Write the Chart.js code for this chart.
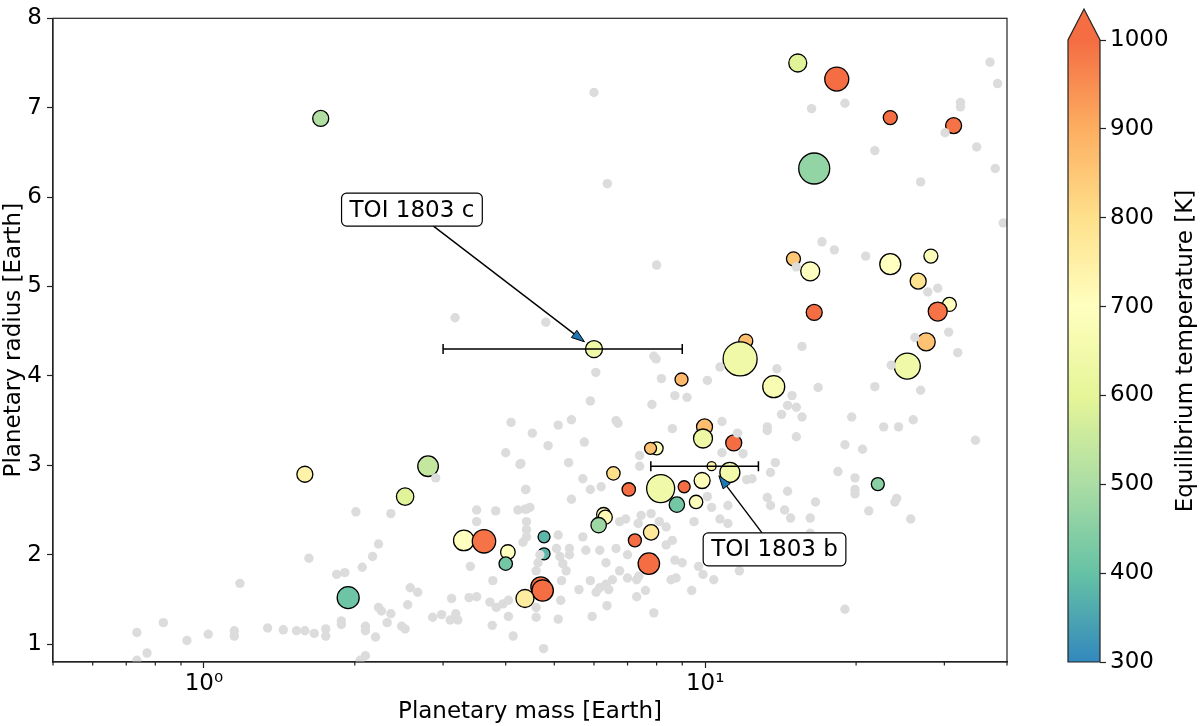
<!DOCTYPE html>
<html><head><meta charset="utf-8">
<script src="https://cdn.jsdelivr.net/npm/chart.js@4.4.1/dist/chart.umd.min.js"></script>
<style>
html,body{margin:0;padding:0;background:#fff;}
#wrap{position:relative;width:1200px;height:726px;}
canvas{position:absolute;left:0;top:0;}
</style></head><body>
<div id="wrap"><canvas id="main" width="1200" height="726"></canvas><canvas id="cbar" width="1200" height="726"></canvas></div>
<script>
// ---------- data ----------
const grayMass = [6.0,6.38,8.0,4.81,16.3,19.0,21.8,26.9,30.1,32.3,32.3,34.8,37.0,38.3,37.9,39.3,17.1,18.1,20.9,15.2,27.8,29.1,30.6,26.2,15.6,
6.05,7.9,7.98,8.18,8.7,9.2,7.83,5.9,10.1,10.7,13.9,16.8,14.9,14.6,15.2,14.2,15.6,21.8,26.9,31.9,23.5,19.6,22.7,24.3,26.0,34.6,19.0,20.6,18.4,19.9,19.9,19.9,24.1,23.9,21.2,25.7,19.0,15.2,13.3,13.3,13.8,13.5,14.6,13.3,13.5,14.4,14.8,16.2,16.6,16.2,16.2,12.1,12.4,11.6,11.9,10.8,10.8,8.6,7.4,7.4,6.64,6.7,5.09,5.41,5.74,4.52,4.86,4.27,5.34,5.7,5.9,6.2,4.39,5.41,4.37,4.47,4.4,4.4,4.4,5.09,5.7,5.36,5.36,5.05,5.78,6.16,6.64,6.34,6.75,6.94,7.35,7.45,7.8,8.1,8.36,7.0,8.36,8.7,9.0,8.6,9.5,10.1,10.3,10.7,11.1,11.1,9.7,9.9,10.4,9.4,11.7,8.75,8.55,7.3,7.37,7.6,7.3,7.9,7.0,6.75,6.53,6.34,6.16,6.42,5.9,6.06,6.37,5.6,5.2,5.28,5.17,5.15,5.95,5.09,4.6,4.6,4.76,4.6,4.64,4.68,4.33,5.13,
4.10,4.0,4.29,4.38,2.90,2.01,2.36,3.50,3.50,3.82,4.23,4.4,2.23,2.17,2.07,1.91,1.84,1.62,1.18,3.40,3.77,2.58,2.67,2.55,2.23,2.26,2.36,2.32,2.48,2.52,3.12,3.38,3.50,2.86,2.98,3.10,3.18,3.21,3.72,3.83,3.95,4.05,4.05,3.76,4.14,2.10,2.10,2.20,1.88,1.88,1.75,1.75,1.66,1.59,1.53,1.44,1.34,1.15,1.15,1.02,0.925,0.83,0.735,0.77,0.735,2.10,2.05,3.17];
const grayRadius = [7.17,6.15,5.24,4.60,6.99,7.05,6.52,6.17,6.72,7.06,7.01,6.56,7.51,7.27,6.32,5.71,5.50,5.41,5.34,5.22,4.94,4.98,4.49,4.43,4.33,
4.04,4.22,4.19,3.97,3.78,3.76,3.68,3.72,3.95,4.10,4.08,3.87,3.78,3.67,3.65,3.57,3.54,3.88,3.84,4.26,4.12,3.54,3.43,3.43,3.51,3.28,3.23,3.18,2.93,2.86,2.73,2.68,2.63,2.59,2.49,2.40,1.39,3.32,3.43,3.39,3.03,2.92,2.71,2.64,2.55,2.50,2.41,2.41,2.59,2.24,2.12,2.84,2.85,3.36,3.13,3.49,3.14,3.41,3.11,2.99,3.50,3.47,3.45,3.51,3.26,3.36,3.22,3.01,3.03,2.85,2.73,2.76,2.73,2.62,2.51,2.53,2.37,2.28,2.20,2.22,2.20,2.07,2.00,2.07,2.05,2.05,2.07,1.91,2.37,2.40,2.35,2.44,2.46,2.37,2.31,2.00,2.11,1.94,1.91,2.16,2.37,2.65,2.53,2.40,2.35,2.55,1.87,1.78,1.72,1.60,1.82,1.74,1.72,1.72,1.76,1.60,1.53,1.35,1.74,1.82,1.72,1.67,1.63,1.61,1.71,1.58,1.43,1.61,1.90,1.82,1.71,1.49,1.31,1.28,1.30,1.41,0.95,1.82,1.91,2.00,2.14,1.98,
3.48,3.14,3.02,2.73,2.86,2.48,2.46,2.50,2.37,2.49,2.50,2.51,2.12,1.98,1.86,1.80,1.78,1.96,1.68,1.87,1.71,1.63,1.58,1.44,1.41,1.37,1.34,1.24,1.20,1.17,1.51,1.52,1.53,1.30,1.33,1.27,1.34,1.27,1.47,1.41,1.45,1.49,1.31,1.21,1.09,1.20,1.15,1.08,1.26,1.22,1.17,1.09,1.12,1.15,1.15,1.16,1.18,1.15,1.09,1.11,1.04,1.24,1.13,0.90,0.82,0.87,0.82,4.65];

const planetMass   = [15.3,18.3,23.4,31.3,16.5,15.0,16.2,23.4,28.2,26.6,16.5,30.7,29.1,27.6,12.05,6.0,11.74,25.3,13.7,8.97,9.97,9.9,11.4,8.0,7.78,10.3,11.2,9.86,8.15,9.08,7.04,6.56,8.78,9.59,6.27,6.32,6.13,7.8,7.24,7.72,4.77,4.77,22.1,4.70,4.74,4.37,1.59,2.80,2.52,3.30,3.62,4.04,4.0,1.94,1.71];
const planetRadius = [7.50,7.32,6.89,6.80,6.32,5.31,5.17,5.25,5.34,5.06,4.71,4.80,4.72,4.38,4.39,4.30,4.19,4.11,3.88,3.96,3.43,3.30,3.25,3.19,3.19,2.99,2.92,2.83,2.74,2.76,2.73,2.91,2.56,2.59,2.45,2.42,2.33,2.25,2.16,1.90,2.20,2.01,2.79,1.64,1.60,1.51,2.90,2.99,2.65,2.16,2.15,2.03,1.90,1.52,6.88];
const planetTeq    = [590,1000,1000,990,465,850,700,700,680,790,1000,700,990,860,870,640,640,640,670,880,870,630,1000,690,860,740,650,710,640,1000,1000,800,420,690,720,720,480,770,1000,1000,380,380,450,990,1000,760,740,540,590,700,990,700,420,410,510];
const planetBubble = [9,12,7,8,15.5,7,9.5,10.5,7,8,8,7,9.5,9,7,8.5,17,13,11,6.5,8,9.5,8,6.5,6,4.5,10,8,14,6,6.7,6.7,7.7,6.7,7,7,7.7,7.7,6.5,10.7,6,6,6.5,10,10.7,9,8,10.3,8.7,10.3,11.7,7.3,6.7,11,8];

const toiNames       = ['TOI 1803 c','TOI 1803 b'];
const toiMass        = [6.0, 10.3];
const toiMassLow     = [3.0, 7.79];
const toiMassHigh    = [9.0, 12.77];
const toiRadius      = [4.30, 2.99];
const toiLabelMass   = [2.6, 13.75];
const toiLabelRadius = [5.86, 2.06];

const xMajorTicks = [1, 10];
const xTickLabels = ['10\u2070', '10\u00b9'];
const xMinorTicks = [0.5,0.6,0.7,0.8,0.9,2,3,4,5,6,7,8,9,20,30,40];
const yTicks = [1,2,3,4,5,6,7,8];
const cbarTicks = [300,400,500,600,700,800,900,1000];
const cbarTitle = 'Equilibrium temperature [K]';
const cmapStops = ['#3288bd','#66c2a5','#abdda4','#e6f598','#ffffbf','#fee08b','#fdae61','#f46d43'];

// ---------- helpers ----------
const TEQ_MIN = cbarTicks[0], TEQ_MAX = cbarTicks[cbarTicks.length-1];
function hex2rgb(h){return [parseInt(h.slice(1,3),16),parseInt(h.slice(3,5),16),parseInt(h.slice(5,7),16)];}
const stopRGB = cmapStops.map(hex2rgb);
function cmap(v){
  let t = (v - TEQ_MIN)/(TEQ_MAX - TEQ_MIN);
  t = Math.max(0, Math.min(1, t));
  const n = stopRGB.length - 1, f = t*n, i = Math.min(n-1, Math.floor(f)), u = f - i;
  const a = stopRGB[i], b = stopRGB[i+1];
  return 'rgb(' + [0,1,2].map(k => Math.round(a[k] + (b[k]-a[k])*u)).join(',') + ')';
}

Chart.defaults.font.family = "'DejaVu Sans', sans-serif";
Chart.defaults.font.size = 23;
Chart.defaults.color = '#000';

const FONT = "23px 'DejaVu Sans', sans-serif";

const errorBarPlugin = {
  id: 'errorbars',
  afterDatasetDraw(chart, args) {
    if (args.index !== 0) return;
    const ctx = chart.ctx, xs = chart.scales.x, ys = chart.scales.y;
    ctx.save();
    ctx.strokeStyle = '#000'; ctx.lineWidth = 1.5;
    for (let i = 0; i < toiMass.length; i++) {
      const x0 = xs.getPixelForValue(toiMassLow[i]), x1 = xs.getPixelForValue(toiMassHigh[i]);
      const y = ys.getPixelForValue(toiRadius[i]);
      ctx.beginPath();
      ctx.moveTo(x0, y); ctx.lineTo(x1, y);
      ctx.moveTo(x0, y-5); ctx.lineTo(x0, y+5);
      ctx.moveTo(x1, y-5); ctx.lineTo(x1, y+5);
      ctx.stroke();
    }
    ctx.restore();
  }
};

const framePlugin = {
  id: 'frame',
  afterDraw(chart) {
    const ctx = chart.ctx, a = chart.chartArea, xs = chart.scales.x, ys = chart.scales.y;
    ctx.save();
    ctx.strokeStyle = '#222'; ctx.lineWidth = 1.2;
    ctx.strokeRect(a.left, a.top, a.right - a.left, a.bottom - a.top);
    // minor ticks
    ctx.beginPath();
    xMinorTicks.forEach(v => {
      const px = xs.getPixelForValue(v);
      ctx.moveTo(px, a.bottom); ctx.lineTo(px, a.bottom + 3.5);
    });
    ctx.stroke();
    // annotations
    ctx.font = FONT;
    ctx.textAlign = 'center'; ctx.textBaseline = 'middle';
    for (let i = 0; i < toiNames.length; i++) {
      const px = xs.getPixelForValue(toiMass[i]), py = ys.getPixelForValue(toiRadius[i]);
      const tx = xs.getPixelForValue(toiLabelMass[i]), ty = ys.getPixelForValue(toiLabelRadius[i]);
      const w = ctx.measureText(toiNames[i]).width + 16, h = 33;
      const dx = px - tx, dy = py - ty, L = Math.hypot(dx, dy), ux = dx/L, uy = dy/L;
      const t0 = Math.min((w/2)/Math.abs(ux || 1e-9), (h/2)/Math.abs(uy || 1e-9));
      const sx = tx + ux*t0, sy = ty + uy*t0;
      const ex = px - ux*12, ey = py - uy*12;
      const hl = 13, hw = 4.5;
      const bx = ex - ux*hl, by = ey - uy*hl;
      ctx.strokeStyle = '#000'; ctx.lineWidth = 1.4;
      ctx.beginPath(); ctx.moveTo(sx, sy); ctx.lineTo(bx, by); ctx.stroke();
      ctx.beginPath();
      ctx.moveTo(ex, ey);
      ctx.lineTo(bx - uy*hw, by + ux*hw);
      ctx.lineTo(bx + uy*hw, by - ux*hw);
      ctx.closePath();
      ctx.fillStyle = '#1f77b4'; ctx.fill();
      ctx.lineWidth = 1; ctx.stroke();
      // box
      ctx.beginPath();
      ctx.roundRect(tx - w/2, ty - h/2, w, h, 5);
      ctx.fillStyle = '#fff'; ctx.fill();
      ctx.lineWidth = 1.2; ctx.strokeStyle = '#000'; ctx.stroke();
      ctx.fillStyle = '#000';
      ctx.fillText(toiNames[i], tx, ty + 1);
    }
    ctx.restore();
  }
};

new Chart(document.getElementById('main'), {
  type: 'scatter',
  data: {
    datasets: [
      {
        data: grayMass.map((m, i) => ({x: m, y: grayRadius[i]})),
        pointRadius: 4.7, pointBackgroundColor: '#dcdcdc', pointBorderWidth: 0, pointHoverRadius: 4.7
      },
      {
        data: planetMass.map((m, i) => ({x: m, y: planetRadius[i]})),
        pointRadius: c => planetBubble[c.dataIndex],
        pointHoverRadius: c => planetBubble[c.dataIndex],
        pointBackgroundColor: c => cmap(planetTeq[c.dataIndex]),
        pointBorderColor: '#000', pointBorderWidth: 1.3
      }
    ]
  },
  options: {
    responsive: false, animation: false, devicePixelRatio: 1,
    events: [],
    layout: {padding: {left: 0, right: 193, top: 9, bottom: 0}},
    plugins: {legend: {display: false}, tooltip: {enabled: false}},
    scales: {
      x: {
        type: 'logarithmic', min: 0.5, max: 40,
        afterBuildTicks: s => { s.ticks = xMajorTicks.map(v => ({value: v, major: true})); },
        ticks: {autoSkip: false, maxRotation: 0, padding: 2, color: '#000',
          callback: v => { const k = xMajorTicks.indexOf(v); return k >= 0 ? xTickLabels[k] : ''; }},
        grid: {drawOnChartArea: false, drawTicks: true, tickLength: 6, color: '#222', tickWidth: 1.2},
        border: {display: true, color: '#222', width: 1.2},
        title: {display: true, text: 'Planetary mass [Earth]', padding: 0, color: '#000'},
        afterFit: s => { s.height = 64; s.paddingLeft = 0; s.paddingRight = 0; }
      },
      y: {
        type: 'linear', min: 0.8, max: 8,
        afterBuildTicks: s => { s.ticks = yTicks.map(v => ({value: v})); },
        ticks: {padding: 5, color: '#000', callback: v => String(v)},
        grid: {drawOnChartArea: false, drawTicks: true, tickLength: 6, color: '#222', tickWidth: 1.2},
        border: {display: true, color: '#222', width: 1.2},
        title: {display: true, text: 'Planetary radius [Earth]', padding: 0, color: '#000'},
        afterFit: s => { s.width = 53; s.paddingTop = 0; s.paddingBottom = 0; }
      }
    }
  },
  plugins: [errorBarPlugin, framePlugin]
});

const cbarPlugin = {
  id: 'cbar',
  beforeDraw(chart) {
    const ctx = chart.ctx, a = chart.chartArea, ys = chart.scales.y;
    const yLo = ys.getPixelForValue(TEQ_MIN), yHi = ys.getPixelForValue(TEQ_MAX);
    const g = ctx.createLinearGradient(0, yLo, 0, yHi);
    cmapStops.forEach((c, i) => g.addColorStop(i/(cmapStops.length-1), c));
    const cx = (a.left + a.right)/2, apex = yHi - 31;
    ctx.save();
    ctx.fillStyle = g;
    ctx.fillRect(a.left, yHi, a.right - a.left, yLo - yHi);
    ctx.beginPath();
    ctx.moveTo(a.left, yHi); ctx.lineTo(cx, apex); ctx.lineTo(a.right, yHi); ctx.closePath();
    ctx.fillStyle = cmap(TEQ_MAX); ctx.fill();
    ctx.beginPath();
    ctx.moveTo(a.left, yLo); ctx.lineTo(a.left, yHi); ctx.lineTo(cx, apex);
    ctx.lineTo(a.right, yHi); ctx.lineTo(a.right, yLo); ctx.closePath();
    ctx.strokeStyle = '#222'; ctx.lineWidth = 1.2; ctx.stroke();
    // colorbar label, rotated counter-clockwise like matplotlib
    ctx.translate(ys.right - 14, (yLo + yHi)/2);
    ctx.rotate(-Math.PI/2);
    ctx.font = FONT; ctx.fillStyle = '#000';
    ctx.textAlign = 'center'; ctx.textBaseline = 'middle';
    ctx.fillText(cbarTitle, 0, 0);
    ctx.restore();
  }
};

new Chart(document.getElementById('cbar'), {
  type: 'scatter',
  data: {datasets: []},
  options: {
    responsive: false, animation: false, devicePixelRatio: 1,
    events: [],
    layout: {padding: {left: 1068, top: 40, bottom: 64, right: 0}},
    plugins: {legend: {display: false}, tooltip: {enabled: false}},
    scales: {
      x: {display: false, min: 0, max: 1},
      y: {
        position: 'right', min: TEQ_MIN, max: TEQ_MAX,
        afterBuildTicks: s => { s.ticks = cbarTicks.map(v => ({value: v})); },
        ticks: {padding: 4, color: '#000', callback: v => String(v)},
        grid: {drawOnChartArea: false, drawTicks: true, tickLength: 6, color: '#222', tickWidth: 1.2},
        border: {display: false},
        title: {display: false},
        afterFit: s => { s.width = 100; s.paddingTop = 0; s.paddingBottom = 0; }
      }
    }
  },
  plugins: [cbarPlugin]
});
</script>
</body></html>
